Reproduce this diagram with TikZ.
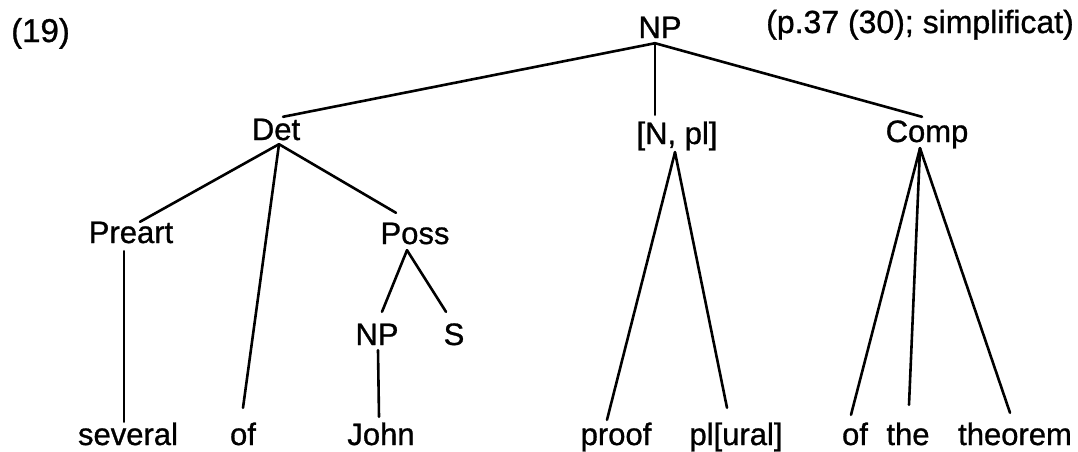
\documentclass[tikz,border=0pt]{standalone}
\usepackage{fontspec}
% slightly heavier strokes, as in the typeset original
\setmainfont{Liberation Sans}[FakeBold=0.9]
\begin{document}
\begin{tikzpicture}[x=1pt,y=-1pt,
  lbl/.style={anchor=base,inner sep=0pt,text height=22pt,text depth=5pt,
    font=\fontsize{31}{31}\selectfont},
  branch/.style={line width=2.6pt,line cap=round}]
\useasboundingbox[fill=white] (0,0) rectangle (1078,451);

% header
\node[lbl,anchor=base west,font=\fontsize{33}{33}\selectfont] (num) at (11,42) {(19)};
\node[lbl,anchor=base west,font=\fontsize{32}{32}\selectfont] (src) at (766,33) {(p.37 (30); simplificat)};

% tree nodes
\node[lbl] (np)     at (660,38)  {NP};
\node[lbl] (det)    at (276,140) {Det};
\node[lbl] (npl)    at (677,144) {[N, pl]};
\node[lbl] (comp)   at (927,142) {Comp};
\node[lbl] (preart) at (131,243) {Preart};
\node[lbl] (poss)   at (415,244) {Poss};
\node[lbl] (npb)    at (377,345) {NP};
\node[lbl] (s)      at (454,345) {S};

% terminal words
\node[lbl] (several) at (128,445)  {several};
\node[lbl] (ofa)     at (243,445)  {of};
\node[lbl] (john)    at (381,445)  {John};
\node[lbl] (proof)   at (616,445)  {proof};
\node[lbl] (plural)  at (736,445)  {pl[ural]};
\node[lbl] (ofb)     at (855,445)  {of};
\node[lbl] (the)     at (908,445)  {the};
\node[lbl] (theorem) at (1015,445) {theorem};

% branches
\draw[branch] ([xshift=-5pt]np.south) -- ([xshift=7pt,yshift=1pt]det.north);
\draw[branch] ([xshift=-5pt]np.south) -- ([xshift=-22pt,yshift=7pt]npl.north);
\draw[branch] ([xshift=-5pt]np.south) -- ([xshift=-5pt,yshift=3pt]comp.north);

\draw[branch] ([xshift=3pt,yshift=1pt]det.south) -- ([xshift=9pt,yshift=-1pt]preart.north);
\draw[branch] ([xshift=3pt,yshift=1pt]det.south) -- ([yshift=15pt]ofa.north);
\draw[branch] ([xshift=3pt,yshift=1pt]det.south) -- ([xshift=-19pt,yshift=9pt]poss.north);

\draw[branch] ([xshift=-7pt,yshift=-3pt]preart.south) -- ([xshift=-4pt,yshift=1pt]several.north);

\draw[branch] ([xshift=-8pt,yshift=-1pt]poss.south) -- ([xshift=5pt,yshift=11pt]npb.north);
\draw[branch] ([xshift=-8pt,yshift=-1pt]poss.south) -- ([xshift=-8pt,yshift=11pt]s.north);
\draw[branch] ([xshift=1pt]npb.south) -- ([xshift=-2pt,yshift=6pt]john.north);

\draw[branch] ([xshift=-2pt,yshift=-3pt]npl.south) -- ([xshift=-9pt,yshift=3pt]proof.north);
\draw[branch] ([xshift=-2pt,yshift=-3pt]npl.south) -- ([xshift=-9pt,yshift=15pt]plural.north);

\draw[branch] ([xshift=-7pt,yshift=-1pt]comp.south) -- ([xshift=-4pt,yshift=8pt]ofb.north);
\draw[branch] ([xshift=-7pt,yshift=-1pt]comp.south) -- ([xshift=1pt,yshift=18pt]the.north);
\draw[branch] ([xshift=-7pt,yshift=-1pt]comp.south) -- ([xshift=-5pt,yshift=10pt]theorem.north);
\end{tikzpicture}
\end{document}
